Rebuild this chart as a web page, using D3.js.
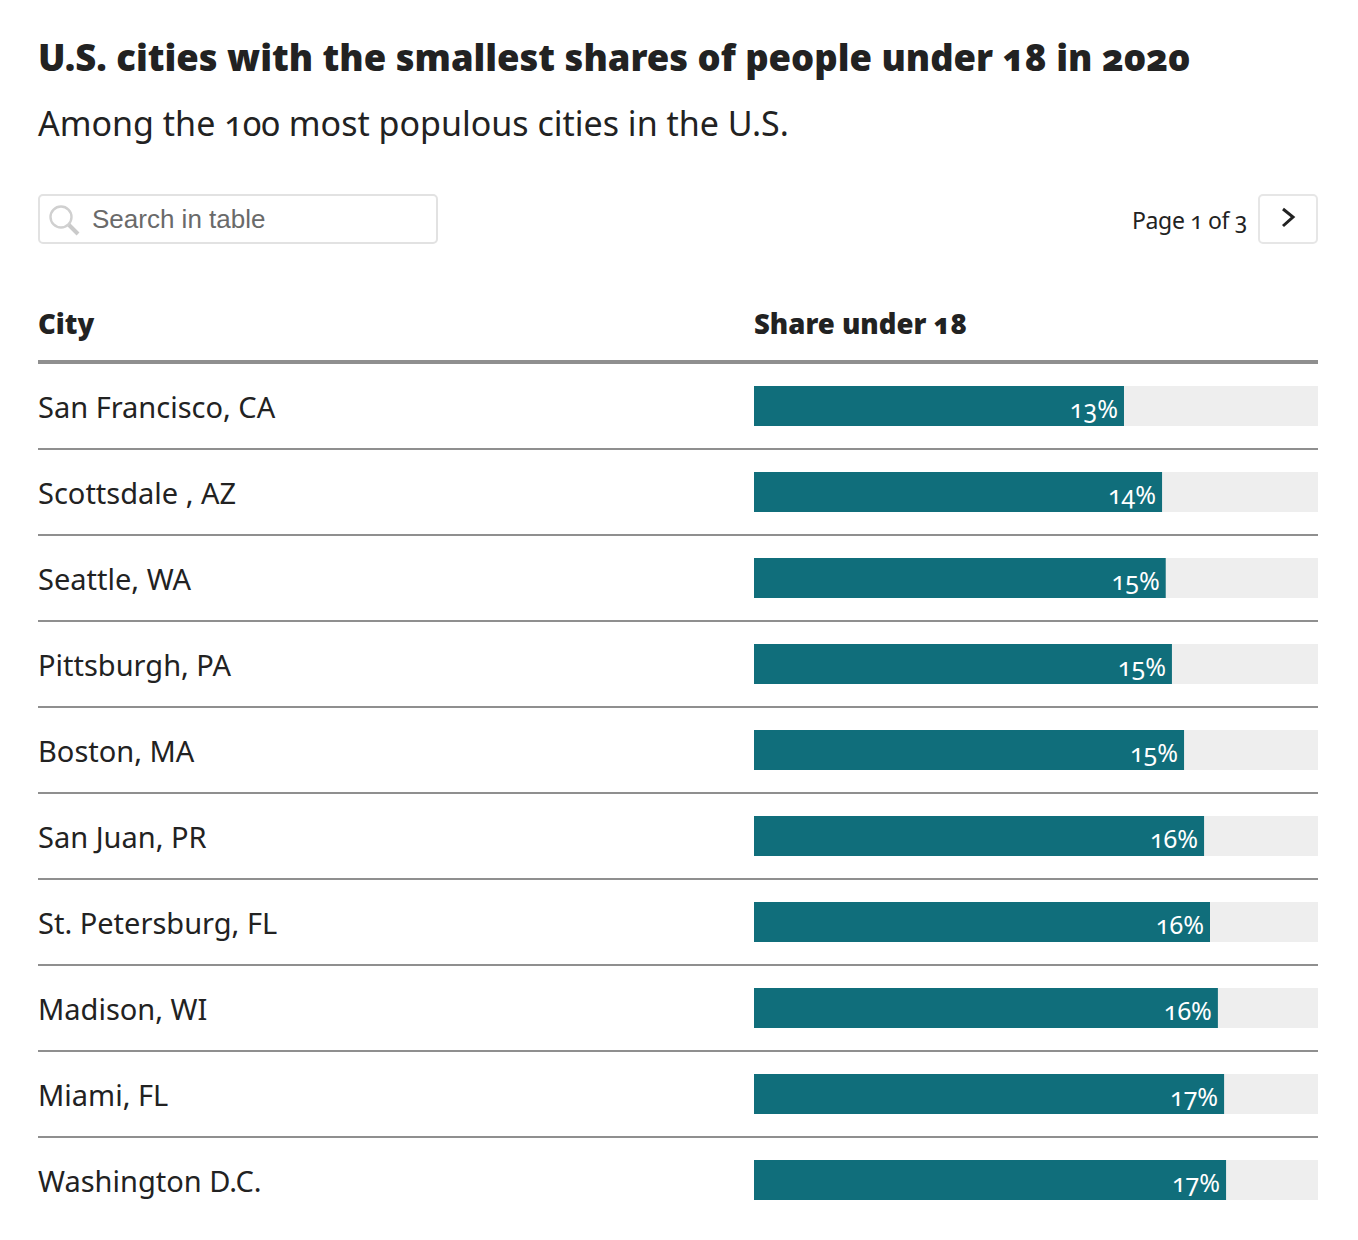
<!DOCTYPE html>
<html><head><meta charset="utf-8">
<script src="https://cdn.jsdelivr.net/npm/d3@7"></script>
<style>
html,body{margin:0;padding:0;background:#fff}
svg{display:block}
text{font-family:"Noto Sans",sans-serif;fill:#222;font-feature-settings:"onum" 1;font-variant-numeric:oldstyle-nums}
.h{font-family:"Noto Sans",sans-serif;font-weight:900}
</style></head><body>
<svg id="c" width="1358" height="1240"></svg>
<script>
const cities=["San Francisco, CA","Scottsdale , AZ","Seattle, WA","Pittsburgh, PA","Boston, MA","San Juan, PR","St. Petersburg, FL","Madison, WI","Miami, FL","Washington D.C."];
const shares=[13.12,14.47,14.6,14.82,15.25,15.96,16.17,16.45,16.67,16.74];
const shareLabels=["13%","14%","15%","15%","15%","16%","16%","16%","17%","17%"];
const title="U.S. cities with the smallest shares of people under 18 in 2020";
const subtitle="Among the 100 most populous cities in the U.S.";
const headers=["City","Share under 18"];

const svg=d3.select("#c");
const x=d3.scaleLinear().domain([0,20]).range([754,1318]);
const y=d3.scaleBand().domain(cities).range([364,1224]);
const t=(s,px,py,size,o={})=>svg.append("text").text(s).attr("x",px).attr("y",py).attr("font-size",size)
  .attr("class",o.cls||null).style("fill",o.fill||null).attr("text-anchor",o.anchor||"start");

t(title,38,71,36.4,{cls:"h"});
t(subtitle,38,136,34);

svg.append("rect").attr("x",39).attr("y",195).attr("width",398).attr("height",48).attr("rx",4)
  .attr("fill","#fff").attr("stroke","#e2e2e2").attr("stroke-width",2);
svg.append("circle").attr("cx",61).attr("cy",217).attr("r",10.5).attr("fill","none").attr("stroke","#d0d0d0").attr("stroke-width",2.4);
svg.append("line").attr("x1",69).attr("y1",225).attr("x2",78).attr("y2",234).attr("stroke","#cacaca").attr("stroke-width",4);
t("Search in table",92,228,26,{fill:"#6a6a6a"}).style("font-family","Liberation Sans,Arial,sans-serif");

t("Page 1 of 3",1247,229,23,{anchor:"end"}).style("letter-spacing","-0.35px");
svg.append("rect").attr("x",1259).attr("y",195).attr("width",58).attr("height",48).attr("rx",4)
  .attr("fill","#fff").attr("stroke","#e6e6e6").attr("stroke-width",2);
svg.append("path").attr("d","M1283 209L1293 217L1283 226").attr("fill","none").attr("stroke","#222").attr("stroke-width",3);

t(headers[0],38,334,27.5,{cls:"h"});
t(headers[1],754,334,27.5,{cls:"h"});
svg.append("rect").attr("x",38).attr("y",360).attr("width",1280).attr("height",4).attr("fill","#8f8f8f");

const rows=svg.selectAll("g.row").data(cities).join("g").attr("class","row");
rows.append("text").text(d=>d).attr("x",38).attr("y",d=>y(d)+54).attr("font-size",29);
rows.append("rect").attr("x",x(0)).attr("y",d=>y(d)+22).attr("width",x(20)-x(0)).attr("height",40).attr("fill","#eeeeee");
rows.append("rect").attr("x",x(0)).attr("y",d=>y(d)+22).attr("width",(d,i)=>x(shares[i])-x(0)).attr("height",40).attr("fill","#106e7b");
rows.append("text").text((d,i)=>shareLabels[i]).attr("x",(d,i)=>x(shares[i])-6).attr("y",d=>y(d)+54)
  .attr("font-size",25).attr("text-anchor","end").style("fill","#fff");
rows.filter((d,i)=>i<cities.length-1).append("rect").attr("x",38).attr("y",d=>y(d)+84).attr("width",1280).attr("height",2).attr("fill","#8f8f8f");
</script></body></html>
